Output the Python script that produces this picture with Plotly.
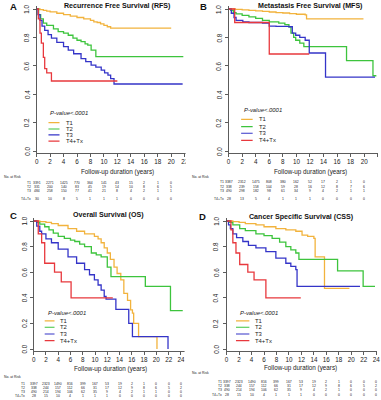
import plotly.graph_objects as go

# ---------------- data ----------------
GROUPS = ["T1", "T2", "T3", "T4+Tx"]
PANEL_TITLES = ["Recurrence Free Survival (RFS)", "Metastasis Free Survival (MFS)",
                "Overall Survival (OS)", "Cancer Specific Survival (CSS)"]
PANEL_LETTERS = ["A", "B", "C", "D"]
PVALUE_TEXT = "P-value<.0001"
XTITLE = "Follow-up duration (years)"
RISK_LABEL = "No. at Risk"
YTICKS = [0.0, 0.2, 0.4, 0.6, 0.8, 1.0]

# RFS (A)
RFS_T1_T = [0, 0.5, 1, 1.5, 2, 3, 4, 5, 6, 7, 8, 8.5, 9, 9.5, 10, 10.5, 11, 20]
RFS_T1_S = [1, 0.995, 0.99, 0.985, 0.98, 0.97, 0.96, 0.95, 0.94, 0.93, 0.92, 0.91, 0.905, 0.895, 0.885, 0.875, 0.865, 0.865]
RFS_T2_T = [0, 0.3, 0.6, 1.0, 1.5, 2.5, 3.2, 4, 4.7, 5.4, 6.0, 6.6, 7.2, 7.6, 8.1, 8.8, 21.8]
RFS_T2_S = [1, 0.96, 0.93, 0.90, 0.885, 0.86, 0.84, 0.83, 0.815, 0.795, 0.78, 0.77, 0.755, 0.745, 0.71, 0.665, 0.665]
RFS_T3_T = [0, 0.2, 0.5, 0.8, 1.2, 1.7, 2.2, 3, 4, 4.7, 5.5, 6.6, 7.3, 8.1, 8.8, 9.6, 10.1, 10.6, 11.0, 11.5, 21.7]
RFS_T3_S = [1, 0.96, 0.92, 0.88, 0.85, 0.82, 0.795, 0.765, 0.735, 0.71, 0.685, 0.65, 0.63, 0.605, 0.59, 0.57, 0.55, 0.535, 0.51, 0.472, 0.472]
RFS_T4_T = [0, 0.25, 0.5, 0.7, 1.0, 1.2, 1.5, 2.2, 12.0]
RFS_T4_S = [1, 0.93, 0.83, 0.76, 0.66, 0.58, 0.55, 0.493, 0.493]

# MFS (B)
MFS_T1_T = [0, 1, 2, 3, 4, 5, 6, 7, 8, 9, 10, 11.3, 11.5, 19.9]
MFS_T1_S = [1, 0.997, 0.994, 0.99, 0.987, 0.983, 0.979, 0.975, 0.972, 0.968, 0.963, 0.958, 0.93, 0.93]
MFS_T2_T = [0, 0.3, 0.7, 1.1, 2, 3, 4, 5, 6, 7.4, 8.3, 8.9, 9.2, 9.6, 9.9, 10.5, 11.1, 17.4, 21.3, 21.8]
MFS_T2_S = [1, 0.99, 0.975, 0.965, 0.955, 0.945, 0.934, 0.92, 0.91, 0.9, 0.89, 0.875, 0.83, 0.8, 0.78, 0.76, 0.735, 0.636, 0.53, 0.53]
MFS_T3_T = [0, 0.4, 0.8, 1.1, 2.1, 3, 5, 6, 7, 8.9, 9.4, 9.9, 10.5, 11.3, 11.9, 14.3, 21.6]
MFS_T3_S = [1, 0.97, 0.94, 0.92, 0.91, 0.905, 0.9, 0.88, 0.878, 0.875, 0.83, 0.815, 0.8, 0.78, 0.69, 0.52, 0.52]
MFS_T4_T = [0, 0.9, 6.0, 11.9]
MFS_T4_S = [1, 0.905, 0.683, 0.683]

# OS (C)
OS_T1_T = [0, 1, 2, 2.9, 4, 5.6, 7, 8.3, 9.9, 10.5, 11, 11.5, 12, 12.5, 13.1, 13.6, 14.2, 14.7, 15.3, 15.8, 16.1, 16.3, 16.9, 17.1, 20.1]
OS_T1_S = [1, 0.995, 0.99, 0.98, 0.965, 0.94, 0.92, 0.9, 0.88, 0.86, 0.83, 0.79, 0.75, 0.7, 0.64, 0.59, 0.54, 0.435, 0.38, 0.305, 0.28, 0.2, 0.2, 0.096, 0]
OS_T2_T = [0, 0.5, 1, 1.8, 2.5, 3.2, 4, 5, 6, 6.7, 7.5, 8.3, 9.4, 10.2, 11, 12, 12.6, 18.2, 22.3, 24.3]
OS_T2_S = [1, 0.99, 0.975, 0.955, 0.93, 0.905, 0.88, 0.865, 0.85, 0.84, 0.82, 0.8, 0.75, 0.735, 0.72, 0.64, 0.565, 0.49, 0.30, 0.30]
OS_T3_T = [0, 0.5, 1, 1.3, 2, 2.9, 4, 5.6, 7, 8.3, 9.1, 9.9, 10.5, 11, 11.5, 11.8, 13.4, 15.5, 16.1, 21.9]
OS_T3_S = [1, 0.96, 0.92, 0.9, 0.86, 0.83, 0.78, 0.72, 0.67, 0.62, 0.58, 0.54, 0.5, 0.46, 0.41, 0.39, 0.31, 0.2, 0.096, 0]
OS_T4_T = [0, 0.75, 1.3, 1.8, 3.4, 4.5, 6.1, 12.9]
OS_T4_S = [1, 0.9, 0.83, 0.67, 0.6, 0.525, 0.40, 0.40]

# CSS (D)
CSS_T1_T = [0, 1, 2, 3, 4.7, 6, 7.9, 9.5, 11.1, 12.1, 13, 14, 14.2, 15.7, 19.7]
CSS_T1_S = [1, 0.995, 0.99, 0.98, 0.97, 0.955, 0.94, 0.93, 0.92, 0.89, 0.88, 0.865, 0.72, 0.474, 0.474]
CSS_T2_T = [0, 0.5, 1, 2.1, 3, 4.7, 6, 7.3, 8.5, 9.5, 10.3, 11.1, 11.6, 17.8, 21.9, 23.8]
CSS_T2_S = [1, 0.99, 0.97, 0.94, 0.925, 0.9, 0.885, 0.865, 0.835, 0.8, 0.775, 0.75, 0.70, 0.61, 0.49, 0.49]
CSS_T3_T = [0, 0.3, 0.6, 1, 1.6, 2.6, 3.5, 4.7, 6.3, 7.9, 9.5, 10.3, 11.1, 11.3, 21.4]
CSS_T3_S = [1, 0.97, 0.94, 0.9, 0.87, 0.84, 0.81, 0.79, 0.76, 0.71, 0.67, 0.645, 0.62, 0.49, 0.49]
CSS_T4_T = [0, 0.7, 1.0, 1.5, 2.1, 3.4, 4.4, 6.3, 11.9]
CSS_T4_S = [1, 0.93, 0.83, 0.75, 0.66, 0.6, 0.54, 0.40, 0.40]

# Numbers at risk (columns at 0, 2, 4, ... years)
RFS_RISK = {"T1": [3391, 2271, 1425, 770, 364, 141, 43, 15, 2, 1, 0],
            "T2": [331, 200, 140, 83, 45, 19, 14, 10, 8, 6, 5],
            "T3": [484, 258, 150, 77, 41, 21, 8, 4, 2, 1, 1],
            "T4+Tx": [30, 10, 8, 5, 1, 1, 1, 0, 0, 0, 0]}
MFS_RISK = {"T1": [3387, 2312, 1475, 808, 380, 162, 52, 17, 2, 1, 0],
            "T2": [338, 239, 158, 104, 59, 28, 16, 12, 8, 7, 6],
            "T3": [490, 298, 182, 98, 61, 34, 9, 4, 2, 1, 1],
            "T4+Tx": [28, 13, 5, 4, 1, 1, 1, 0, 0, 0, 0]}
OS_RISK = {"T1": [3397, 2323, 1490, 816, 399, 167, 53, 19, 2, 1, 0, 0, 0],
           "T2": [338, 244, 157, 112, 66, 31, 17, 12, 9, 8, 6, 5, 2],
           "T3": [490, 214, 194, 106, 62, 35, 9, 4, 2, 1, 1, 0, 0],
           "T4+Tx": [28, 15, 10, 4, 1, 1, 1, 0, 0, 0, 0, 0, 0]}
CSS_RISK = {"T1": [3397, 2323, 1490, 816, 399, 167, 53, 19, 2, 1, 0, 0, 0],
            "T2": [338, 244, 157, 112, 66, 31, 17, 12, 9, 8, 6, 5, 2],
            "T3": [490, 214, 194, 106, 62, 35, 9, 4, 2, 1, 0, 0, 0],
            "T4+Tx": [28, 15, 10, 4, 1, 1, 1, 0, 0, 0, 0, 0, 0]}

CURVES = [
    [(RFS_T1_T, RFS_T1_S), (RFS_T2_T, RFS_T2_S), (RFS_T3_T, RFS_T3_S), (RFS_T4_T, RFS_T4_S)],
    [(MFS_T1_T, MFS_T1_S), (MFS_T2_T, MFS_T2_S), (MFS_T3_T, MFS_T3_S), (MFS_T4_T, MFS_T4_S)],
    [(OS_T1_T, OS_T1_S), (OS_T2_T, OS_T2_S), (OS_T3_T, OS_T3_S), (OS_T4_T, OS_T4_S)],
    [(CSS_T1_T, CSS_T1_S), (CSS_T2_T, CSS_T2_S), (CSS_T3_T, CSS_T3_S), (CSS_T4_T, CSS_T4_S)],
]
RISKS = [RFS_RISK, MFS_RISK, OS_RISK, CSS_RISK]

# ---------------- styling / layout ----------------
W, H = 381, 400
FONT = "Liberation Sans, Arial, sans-serif"
COLORS = {"T1": "#F2B33D", "T2": "#3DC43D", "T3": "#3434C8", "T4+Tx": "#E8383D"}
YR = [-0.015, 1.02]

# per-panel pixel geometry
PANELS = [
    dict(x0=35, xs=6.8, xmax=22.3, xtmax=22, y0=151, ys=142, ylab=25,
         title=(117, 6), letter=(11.7, 7), xt=(116.7, 172.3),
         risk_rows=[177.3, 182.5, 186.8, 191.0, 198.8], risk_lab=(0, 31.7),
         pv=(1.76, 0.268), leg=(1.76, 3.4, 4.1, [0.2, 0.155, 0.113, 0.07])),
    dict(x0=229, xs=6.85, xmax=22.1, xtmax=22, y0=151, ys=142, ylab=219.3,
         title=(311.7, 6), letter=(204, 7), xt=(311.7, 171.7),
         risk_rows=[177.3, 182.3, 186.7, 191.0, 198.7], risk_lab=(190, 226.7),
         pv=(2.0, 0.29), leg=(1.85, 3.55, 4.2, [0.223, 0.171, 0.125, 0.075])),
    dict(x0=32, xs=6.2, xmax=24.6, xtmax=24, y0=349, ys=128, ylab=22.7,
         title=(107.5, 215), letter=(11.7, 215), xt=(110, 368.5),
         risk_rows=[376.5, 384.3, 388.3, 392.3, 396.3], risk_lab=(0, 25),
         pv=(2.0, 0.28), leg=(1.8, 3.4, 4.0, [0.22, 0.17, 0.117, 0.065])),
    dict(x0=227, xs=6.3, xmax=24.2, xtmax=24, y0=349, ys=128, ylab=216,
         title=(302.5, 216.5), letter=(203, 216.3), xt=(301.7, 367.7),
         risk_rows=[372.7, 381.5, 385.8, 390.1, 394.5], risk_lab=(190, 224),
         pv=(1.8, 0.284), leg=(1.5, 3.65, 4.2, [0.22, 0.17, 0.117, 0.065])),
]

fig = go.Figure()
layout = dict(width=W, height=H, margin=dict(l=0, r=0, t=0, b=0),
              paper_bgcolor="white", plot_bgcolor="white", showlegend=False,
              font=dict(family=FONT, color="#222"))
annotations = []
shapes = []

def px_to_paper_x(px):
    return px / W

def py_to_paper_y(py):
    return 1 - py / H

for i, p in enumerate(PANELS):
    n = "" if i == 0 else str(i + 1)
    xa, ya = "x" + n, "y" + n
    xdom = [px_to_paper_x(p["x0"]), px_to_paper_x(p["x0"] + p["xs"] * p["xmax"])]
    ydom = [py_to_paper_y(p["y0"] - p["ys"] * YR[0]), py_to_paper_y(p["y0"] - p["ys"] * YR[1])]
    layout["xaxis" + n] = dict(domain=xdom, range=[0, p["xmax"]], anchor=ya,
                               tickvals=list(range(0, p["xtmax"] + 1, 2)),
                               showline=True, linecolor="#333", linewidth=0.8,
                               ticks="outside", ticklen=3, tickwidth=0.8, tickcolor="#333",
                               tickfont=dict(size=6.3, family=FONT, color="#222"),
                               showgrid=False, zeroline=False, fixedrange=True)
    layout["yaxis" + n] = dict(domain=ydom, range=YR, anchor=xa,
                               tickvals=YTICKS, showticklabels=False,
                               showline=True, linecolor="#333", linewidth=0.8,
                               ticks="outside", ticklen=3, tickwidth=0.8, tickcolor="#333",
                               showgrid=False, zeroline=False, fixedrange=True)
    # rotated y tick labels (R style, parallel to the axis)
    for v in YTICKS:
        annotations.append(dict(text=f"{v:.1f}", xref="paper", yref=ya,
                                x=px_to_paper_x(p["ylab"]), y=v, textangle=-90,
                                xanchor="center", yanchor="middle", showarrow=False,
                                font=dict(size=6.3, family=FONT, color="#222")))

    for g, (tt, ss) in zip(GROUPS, CURVES[i]):
        fig.add_trace(go.Scatter(x=tt, y=ss, mode="lines", name=g,
                                 line=dict(color=COLORS[g], width=1.3, shape="hv"),
                                 xaxis=xa, yaxis=ya, hoverinfo="skip"))

    # titles and letters
    annotations.append(dict(text="<b>" + PANEL_TITLES[i] + "</b>", xref="paper", yref="paper",
                            x=px_to_paper_x(p["title"][0]), y=py_to_paper_y(p["title"][1]),
                            xanchor="center", yanchor="middle", showarrow=False,
                            font=dict(size=7.1, family=FONT, color="#111")))
    annotations.append(dict(text="<b>" + PANEL_LETTERS[i] + "</b>", xref="paper", yref="paper",
                            x=px_to_paper_x(p["letter"][0]), y=py_to_paper_y(p["letter"][1]),
                            xanchor="center", yanchor="middle", showarrow=False,
                            font=dict(size=9.5, family=FONT, color="#111")))
    annotations.append(dict(text=XTITLE, xref="paper", yref="paper",
                            x=px_to_paper_x(p["xt"][0]), y=py_to_paper_y(p["xt"][1]),
                            xanchor="center", yanchor="middle", showarrow=False,
                            font=dict(size=6.3, family=FONT, color="#222")))

    # legend inside the plot
    annotations.append(dict(text="<i>" + PVALUE_TEXT + "</i>", xref=xa, yref=ya,
                            x=p["pv"][0], y=p["pv"][1], xanchor="left", yanchor="middle",
                            showarrow=False, font=dict(size=5.9, family=FONT, color="#222")))
    lx0, lx1, ltx, lys = p["leg"]
    for g, ly in zip(GROUPS, lys):
        shapes.append(dict(type="line", xref=xa, yref=ya, x0=lx0, x1=lx1, y0=ly, y1=ly,
                           line=dict(color=COLORS[g], width=1.2)))
        annotations.append(dict(text=g, xref=xa, yref=ya, x=ltx, y=ly,
                                xanchor="left", yanchor="middle", showarrow=False,
                                font=dict(size=5.9, family=FONT, color="#222")))

    # numbers at risk table
    rows = p["risk_rows"]
    annotations.append(dict(text=RISK_LABEL, xref="paper", yref="paper",
                            x=px_to_paper_x(p["risk_lab"][0]), y=py_to_paper_y(rows[0]),
                            xanchor="left", yanchor="middle", showarrow=False,
                            font=dict(size=3.4, family=FONT, color="#222")))
    risk = RISKS[i]
    for g, ry in zip(GROUPS, rows[1:]):
        annotations.append(dict(text=g, xref="paper", yref="paper",
                                x=px_to_paper_x(p["risk_lab"][1]), y=py_to_paper_y(ry),
                                xanchor="right", yanchor="middle", showarrow=False,
                                font=dict(size=3.4, family=FONT, color="#222")))
        for k, v in enumerate(risk[g]):
            annotations.append(dict(text=str(v), xref=xa, yref="paper",
                                    x=2 * k, y=py_to_paper_y(ry),
                                    xanchor="center", yanchor="middle", showarrow=False,
                                    font=dict(size=3.4, family=FONT, color="#222")))

# crop between the two columns of sub-figures
shapes.append(dict(type="rect", xref="paper", yref="paper", layer="above",
                   x0=185.5 / W, x1=189.5 / W, y0=py_to_paper_y(203), y1=1,
                   fillcolor="white", line=dict(width=0)))
shapes.append(dict(type="rect", xref="paper", yref="paper", layer="above",
                   x0=184.5 / W, x1=189.5 / W, y0=0, y1=py_to_paper_y(203),
                   fillcolor="white", line=dict(width=0)))

layout["annotations"] = annotations
layout["shapes"] = shapes
fig.update_layout(**layout)
fig.write_html("out.html",
               config={"displayModeBar": False, "staticPlot": True},
               post_script="document.body.style.margin='0';document.body.style.padding='0';"
                           "document.documentElement.style.overflow='hidden';")
